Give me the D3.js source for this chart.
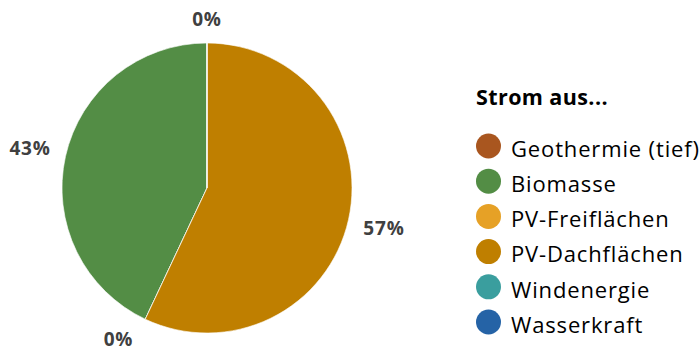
<!DOCTYPE html>
<html><head><meta charset="utf-8">
<script src="https://cdn.jsdelivr.net/npm/d3@7"></script>
<style>body{margin:0;background:#fff}</style>
</head><body>
<svg id="c" width="699" height="354"></svg>
<script>
const categories = ["Geothermie (tief)","Biomasse","PV-Freiflächen","PV-Dachflächen","Windenergie","Wasserkraft"];
const values = [0, 43, 0, 57, 0, 0];
const colors = ["#A9561F","#538D45","#E6A126","#BF7F00","#3A9E9E","#2563A6"];
const showLabel = [true, true, true, true, false, false];
const legendTitle = "Strom aus...";

const svg = d3.select("#c");
const cx = 207, cy = 188, r = 145;
const font = "'Open Sans', sans-serif";
// small layout tweak for the label of PV-Freiflächen (angle shift in radians)
const labelAngleShift = [0, 0, 0.09, 0, 0, 0];

const pie = d3.pie().sort(null).value(d => d.v).startAngle(0).endAngle(-2*Math.PI);
const data = categories.map((c,i)=>({c, v: values[i], col: colors[i], show: showLabel[i], shift: labelAngleShift[i]}));
const arcs = pie(data);
const arc = d3.arc().innerRadius(0).outerRadius(r);
const g = svg.append("g").attr("transform",`translate(${cx},${cy})`);
g.selectAll("path").data(arcs).join("path")
  .attr("d", arc).attr("fill", d=>d.data.col)
  .attr("stroke","#fff").attr("stroke-width", 0.6);

const tot = d3.sum(values);
const labels = g.selectAll("text").data(arcs.filter(d=>d.data.show)).join("text")
  .attr("text-anchor","middle")
  .attr("font-family", font).attr("font-weight","bold").attr("font-size","19px")
  .attr("letter-spacing","0.8px")
  .attr("fill","#404040")
  .text(d=>Math.round(d.data.v/tot*100)+"%");
labels.attr("transform", function(d){
  const w = this.getComputedTextLength(), h = 20;
  const a = (d.startAngle+d.endAngle)/2 + d.data.shift;
  const s = Math.sin(a), c = Math.cos(a);
  const dist = r + 14 + Math.abs(s)*w/2 + Math.abs(c)*h/2;
  return `translate(${dist*s},${-dist*c + 7})`;
});

const lg = svg.append("g");
lg.append("text").attr("x",476).attr("y",105)
  .attr("font-family",font).attr("font-weight","bold").attr("font-size","21.5px")
  .attr("letter-spacing","0.4px")
  .attr("fill","#000").text(legendTitle);
const ly = d3.scalePoint().domain(categories).range([146,322]);
const items = lg.selectAll("g.it").data(data).join("g").attr("class","it")
  .attr("transform", d=>`translate(0,${ly(d.c)})`);
items.append("circle").attr("cx",488.5).attr("cy",0).attr("r",12.5).attr("fill",d=>d.col);
items.append("text").attr("x",511).attr("y",10.7)
  .attr("font-family",font).attr("font-size","22px").attr("letter-spacing","0.85px")
  .attr("fill","#000").text(d=>d.c);
</script>
</body></html>
